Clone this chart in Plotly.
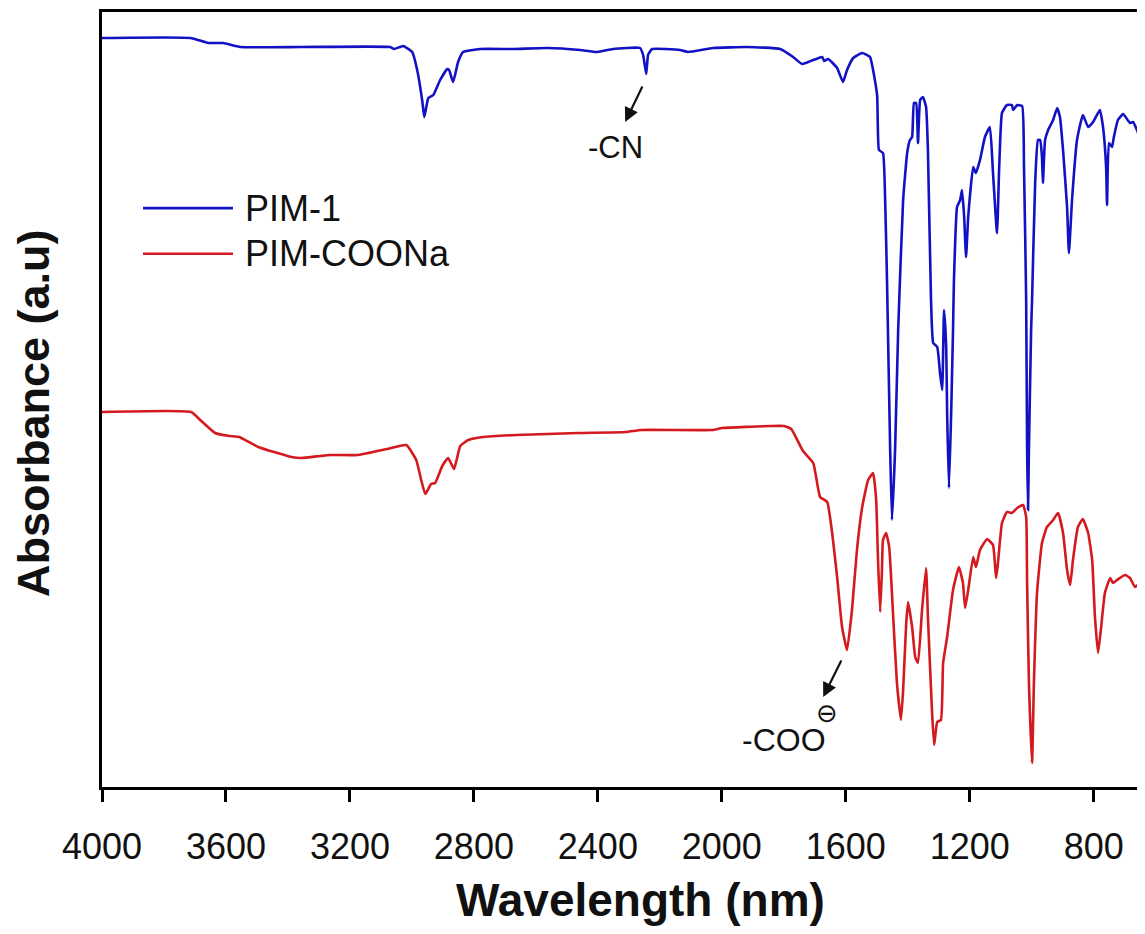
import plotly.graph_objects as go

# ---- PIM-1 (blue) : wavenumber (cm-1) and absorbance (a.u.) ----
pim1_wn = [4000, 3715, 3657, 3609, 3554, 3360, 3070, 3057, 3028, 2999, 2983, 2967, 2960, 2947, 2931,
           2909, 2886, 2880, 2867, 2851, 2835, 2780, 2673, 2564, 2457, 2402, 2351, 2264, 2254, 2244,
           2238, 2225, 2135, 2109, 2028, 1918, 1812, 1770, 1741, 1705, 1676, 1670, 1657, 1628, 1609,
           1596, 1576, 1547, 1522, 1499, 1493, 1480, 1473, 1467, 1457, 1451, 1441, 1431, 1415, 1402,
           1393, 1386, 1380, 1373, 1367, 1360, 1351, 1341, 1335, 1325, 1318, 1305, 1296, 1289, 1283,
           1276, 1273, 1267, 1260, 1254, 1251, 1241, 1231, 1225, 1218, 1212, 1205, 1189, 1180, 1167,
           1151, 1135, 1125, 1112, 1105, 1096, 1080, 1064, 1060, 1047, 1031, 1025, 1018, 1015, 1012,
           1009, 1002, 999, 989, 980, 973, 967, 964, 957, 947, 931, 918, 909, 899, 886,
           880, 870, 854, 835, 818, 802, 780, 770, 760, 757, 751, 741, 735, 722, 705,
           683, 673, 657, 651]
pim1_abs = [7.49, 7.49, 7.44, 7.44, 7.40, 7.40, 7.40, 7.38, 7.41, 7.35, 7.17, 6.87, 6.70, 6.89, 6.92,
            7.07, 7.18, 7.17, 7.05, 7.25, 7.35, 7.38, 7.38, 7.39, 7.37, 7.35, 7.38, 7.39, 7.32, 7.13,
            7.32, 7.38, 7.37, 7.35, 7.39, 7.40, 7.38, 7.30, 7.23, 7.27, 7.30, 7.26, 7.28, 7.19, 7.05,
            7.17, 7.29, 7.34, 7.30, 6.92, 6.37, 6.34, 5.87, 5.07, 3.40, 2.67, 3.37, 4.57, 5.87, 6.34,
            6.47, 6.50, 6.84, 6.84, 6.44, 6.87, 6.90, 6.80, 6.37, 4.87, 4.44, 4.40, 4.14, 3.97, 4.77,
            4.40, 3.74, 2.99, 3.74, 4.57, 5.07, 5.80, 5.87, 5.97, 5.70, 5.30, 5.70, 6.20, 6.14, 6.27,
            6.50, 6.60, 6.14, 5.54, 6.20, 6.74, 6.82, 6.82, 6.77, 6.82, 6.81, 6.20, 4.87, 3.40, 2.77,
            3.40, 4.57, 4.87, 6.04, 6.47, 6.47, 6.30, 6.04, 6.47, 6.57, 6.67, 6.79, 6.70, 6.37, 5.80,
            5.34, 5.87, 6.47, 6.72, 6.60, 6.65, 6.77, 6.60, 6.20, 5.82, 6.44, 6.40, 6.50, 6.67, 6.73,
            6.64, 6.65, 6.54, 6.42]

# ---- PIM-COONa (red) ----
coona_wn = [4000, 3712, 3683, 3635, 3589, 3557, 3496, 3389, 3357, 3296, 3264, 3173, 3080, 3018, 2986,
            2970, 2957, 2938, 2925, 2902, 2883, 2864, 2844, 2818, 2770, 2664, 2464, 2309, 2260, 2031,
            1999, 1844, 1799, 1776, 1738, 1705, 1683, 1660, 1644, 1628, 1612, 1596, 1580, 1564, 1547,
            1528, 1512, 1502, 1496, 1489, 1483, 1480, 1470, 1460, 1447, 1435, 1422, 1415, 1405, 1399,
            1386, 1376, 1367, 1354, 1341, 1335, 1322, 1315, 1305, 1293, 1286, 1273, 1254, 1235, 1222,
            1215, 1205, 1189, 1180, 1167, 1144, 1125, 1115, 1109, 1096, 1080, 1064, 1047, 1028, 1018,
            1015, 1009, 999, 993, 983, 967, 951, 931, 915, 899, 886, 876, 867, 851, 835,
            818, 805, 796, 786, 776, 764, 747, 738, 725, 699, 683, 667, 657, 651]
coona_abs = [3.75, 3.75, 3.67, 3.54, 3.51, 3.50, 3.40, 3.30, 3.29, 3.31, 3.32, 3.32, 3.38, 3.42, 3.27,
             3.07, 2.93, 3.03, 3.04, 3.21, 3.29, 3.18, 3.41, 3.47, 3.50, 3.52, 3.54, 3.55, 3.57, 3.57,
             3.59, 3.61, 3.61, 3.58, 3.36, 3.24, 2.90, 2.85, 2.54, 2.10, 1.60, 1.37, 1.77, 2.37, 2.80,
             3.07, 3.14, 2.87, 2.27, 1.75, 2.20, 2.47, 2.54, 2.40, 1.70, 1.04, 0.67, 0.97, 1.64, 1.85,
             1.60, 1.30, 1.24, 1.77, 2.19, 1.70, 0.77, 0.42, 0.65, 0.67, 1.24, 1.50, 1.97, 2.20, 2.04,
             1.79, 1.97, 2.30, 2.20, 2.37, 2.48, 2.42, 2.09, 2.24, 2.64, 2.75, 2.74, 2.79, 2.82, 2.70,
             2.04, 1.04, 0.24, 1.04, 1.94, 2.44, 2.60, 2.67, 2.74, 2.54, 2.17, 2.02, 2.27, 2.60, 2.68,
             2.54, 2.27, 1.70, 1.34, 1.60, 1.94, 2.09, 2.04, 2.07, 2.12, 2.09, 2.00, 2.02, 2.00]

x_ticks = [4000, 3600, 3200, 2800, 2400, 2000, 1600, 1200, 800]
series_names = ["PIM-1", "PIM-COONa"]

BLUE = "#1212C4"
RED = "#D41A1E"
FONT = "Arial, Liberation Sans, sans-serif"

fig = go.Figure()
fig.add_trace(go.Scatter(x=pim1_wn, y=pim1_abs, mode="lines", name=series_names[0],
                         line=dict(color=BLUE, width=2.6, shape="spline", smoothing=0.4),
                         showlegend=False))
fig.add_trace(go.Scatter(x=coona_wn, y=coona_abs, mode="lines", name=series_names[1],
                         line=dict(color=RED, width=2.6, shape="spline", smoothing=0.4),
                         showlegend=False))

# manual legend
leg_y = [0.747, 0.688]
for name, col, yy in zip(series_names, [BLUE, RED], leg_y):
    fig.add_shape(type="line", xref="paper", yref="paper", x0=0.0394, x1=0.1258, y0=yy, y1=yy,
                  line=dict(color=col, width=2.6))
    fig.add_annotation(xref="paper", yref="paper", x=0.1354, y=yy, text=name, showarrow=False,
                       xanchor="left", yanchor="middle", font=dict(family=FONT, size=36, color="#111"))

# peak annotations
fig.add_annotation(x=2312, y=6.65, ax=2254, ay=7.02, xref="x", yref="y", axref="x", ayref="y",
                   text="", showarrow=True, arrowhead=2, arrowsize=1.3, arrowwidth=2.2, arrowcolor="#111")
fig.add_annotation(x=2344, y=6.40, text="-CN", showarrow=False, xanchor="center", yanchor="middle",
                   font=dict(family=FONT, size=31, color="#111"))
fig.add_annotation(x=1673, y=0.90, ax=1612, ay=1.28, xref="x", yref="y", axref="x", ayref="y",
                   text="", showarrow=True, arrowhead=2, arrowsize=1.3, arrowwidth=2.2, arrowcolor="#111")
fig.add_annotation(x=1799, y=0.47, text="-COO", showarrow=False, xanchor="center", yanchor="middle",
                   font=dict(family=FONT, size=32, color="#111"))
fig.add_annotation(x=1660, y=0.74, text="⊖", showarrow=False, xanchor="center", yanchor="middle",
                   font=dict(family="DejaVu Sans", size=26, color="#111"))

# axis titles
fig.add_annotation(xref="paper", yref="paper", x=0.517, y=-0.146, text="<b>Wavelength (nm)</b>",
                   showarrow=False, xanchor="center", yanchor="middle",
                   font=dict(family=FONT, size=46, color="#111"))
fig.add_annotation(xref="paper", yref="paper", x=-0.0653, y=0.4826, text="<b>Absorbance (a.u)</b>",
                   showarrow=False, xanchor="center", yanchor="middle", textangle=-90,
                   font=dict(family=FONT, size=45, color="#111"))

# page body adds an 8px offset; compensate in figure size/margins
fig.update_layout(
    width=1137, height=918,
    margin=dict(l=94, r=2, t=4, b=139),
    paper_bgcolor="white", plot_bgcolor="white",
    font=dict(family=FONT, color="#111"),
    xaxis=dict(range=[4000, 641], tickmode="array", tickvals=x_ticks,
               ticktext=[str(v) for v in x_ticks], ticks="outside", ticklen=12, tickwidth=2.5,
               tickcolor="#000", showline=True, linecolor="#000", linewidth=3, mirror=True,
               showgrid=False, zeroline=False, ticklabelstandoff=14,
               tickfont=dict(family=FONT, size=36, color="#111")),
    yaxis=dict(range=[0, 7.75], showticklabels=False, ticks="", showline=True, linecolor="#000",
               linewidth=3, mirror=False, showgrid=False, zeroline=False),
)

fig.write_html("out.html")
